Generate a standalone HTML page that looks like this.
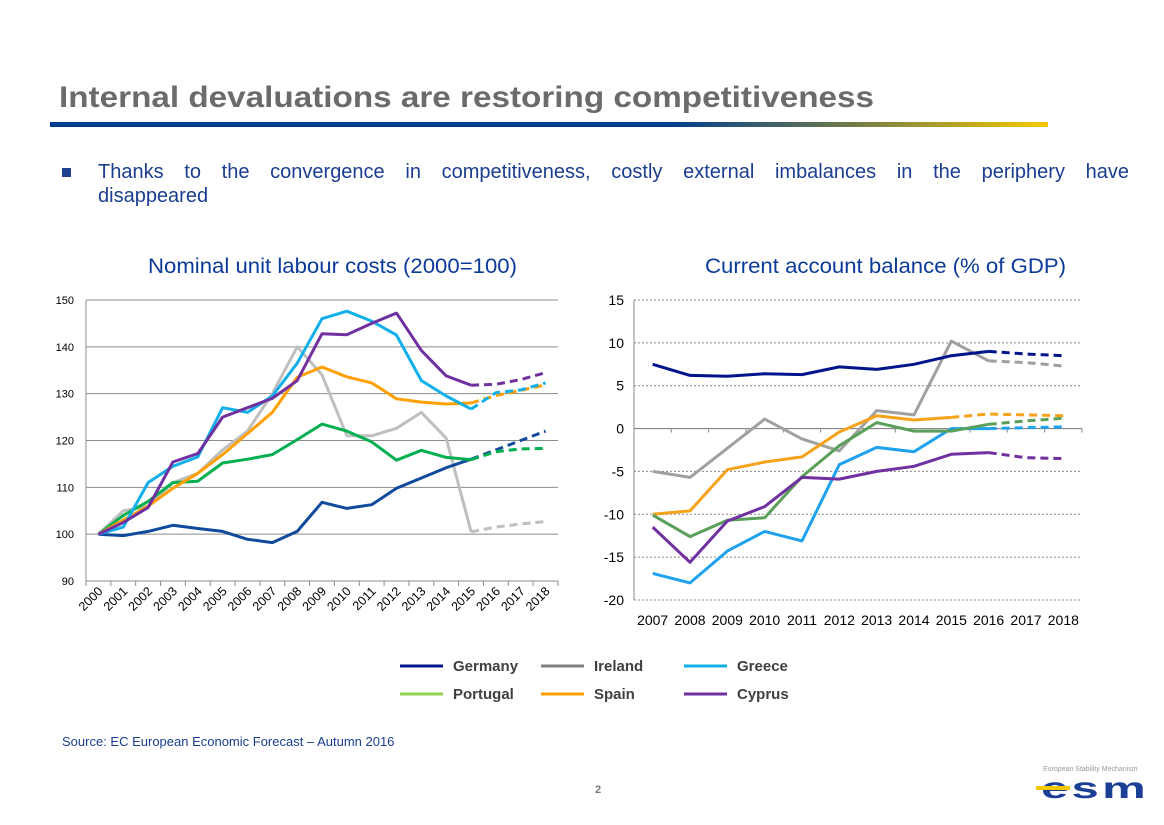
<!DOCTYPE html>
<html><head><meta charset="utf-8"><style>
html,body{margin:0;padding:0;background:#fff;}
svg{display:block;font-family:"Liberation Sans",Arial,sans-serif;}
</style></head><body>
<svg id="page" width="1164" height="825" viewBox="0 0 1164 825" xmlns="http://www.w3.org/2000/svg">
<defs>
<linearGradient id="rule" x1="0" x2="1" y1="0" y2="0">
<stop offset="0" stop-color="#003f8f"/><stop offset="0.62" stop-color="#003f8f"/><stop offset="0.8" stop-color="#6f7a4a"/><stop offset="1" stop-color="#f5c800"/>
</linearGradient>
</defs>
<text x="59" y="107" font-size="30" font-weight="bold" fill="#6b6b6b" textLength="815" lengthAdjust="spacingAndGlyphs">Internal devaluations are restoring competitiveness</text>
<rect x="50" y="122" width="998" height="5" fill="url(#rule)"/>
<rect x="62" y="168" width="9" height="9" fill="#1f3f8f"/>
<text id="bl1" x="98" y="178" font-size="20" fill="#1a3d8f">Thanks to the convergence in competitiveness, costly external imbalances in the periphery have</text>
<text x="98" y="202" font-size="20" fill="#1a3d8f">disappeared</text>
<text x="148" y="273" font-size="21" fill="#0b3a9a" textLength="369" lengthAdjust="spacingAndGlyphs">Nominal unit labour costs (2000=100)</text>
<text x="705" y="273" font-size="21" fill="#0b3a9a" textLength="361" lengthAdjust="spacingAndGlyphs">Current account balance (% of GDP)</text>
<g id="left"></g>
<g id="right"></g>
<g id="legend"></g>
<text x="62" y="746" font-size="13" fill="#1a3d8f">Source: EC European Economic Forecast – Autumn 2016</text>
<text x="598" y="793" font-size="11" font-weight="bold" fill="#777" text-anchor="middle">2</text>
<g>
<text x="1043" y="771" font-size="7" fill="#999">European Stability Mechanism</text>
<text x="1041" y="798" font-size="30" font-weight="bold" fill="#1a3f95" letter-spacing="2" textLength="108" lengthAdjust="spacingAndGlyphs">esm</text>
<rect x="1036" y="786" width="34" height="4" fill="#f5c800"/>
</g>
</svg>
<script>
const NS="http://www.w3.org/2000/svg";
// ---- Left chart data (Nominal ULC) ----
const ulcYears=["2000","2001","2002","2003","2004","2005","2006","2007","2008","2009","2010","2011","2012","2013","2014","2015","2016","2017","2018"];
const ulcTicks=[90,100,110,120,130,140,150];
const ulcGermany=[100,99.7,100.6,101.9,101.2,100.6,98.9,98.2,100.6,106.8,105.5,106.3,109.8,112,114.2,116,118,120,122];
const ulcIreland=[100,105,106,111,113,118,122,130,140,134,121,121,122.6,126,120.5,100.5,101.5,102.2,102.7];
const ulcGreece=[100,101.5,111,114.5,116.5,127,126,129.5,136.5,146,147.6,145.5,142.5,132.8,129.5,126.7,130.2,130.8,132.3];
const ulcPortugal=[100,104,107,111,111.3,115.2,116,117,120.2,123.5,122,119.7,115.8,117.9,116.4,115.9,117.6,118.2,118.3];
const ulcSpain=[100,103,106,109.8,113,117,121.5,126,133.5,135.7,133.6,132.3,128.9,128.2,127.8,128,129.6,130.7,131.9];
const ulcCyprus=[100,102.5,105.7,115.4,117.2,125,127,129,132.8,142.8,142.6,145,147.2,139.2,133.8,131.8,132,133,134.5];
const ulcForecastStart=15;
// ---- Right chart data (Current account) ----
const caYears=["2007","2008","2009","2010","2011","2012","2013","2014","2015","2016","2017","2018"];
const caTicks=[-20,-15,-10,-5,0,5,10,15];
const caGermany=[7.5,6.2,6.1,6.4,6.3,7.2,6.9,7.5,8.5,9.0,8.7,8.5];
const caIreland=[-5,-5.7,-2.3,1.1,-1.2,-2.6,2.1,1.6,10.2,7.9,7.7,7.3];
const caGreece=[-16.9,-18,-14.3,-12,-13.1,-4.2,-2.2,-2.7,0,0,0.1,0.2];
const caPortugal=[-10.1,-12.6,-10.7,-10.4,-5.6,-2,0.7,-0.3,-0.3,0.5,0.9,1.2];
const caSpain=[-10,-9.6,-4.8,-3.9,-3.3,-0.4,1.5,1.0,1.3,1.7,1.6,1.5];
const caCyprus=[-11.5,-15.6,-10.8,-9.1,-5.7,-5.9,-5,-4.4,-3,-2.8,-3.4,-3.5];

// justify bullet line via word spacing
(function(){const t=document.getElementById("bl1");const len=t.getComputedTextLength();const spaces=(t.textContent.match(/ /g)||[]).length;t.setAttribute("word-spacing",((1031-len)/spaces).toFixed(2));})();

function mk(tag,attrs,parent){const e=document.createElementNS(NS,tag);for(const k in attrs)e.setAttribute(k,attrs[k]);parent.appendChild(e);return e;}
function pts(vals,xf,yf,a,b){const o=[];for(let i=a;i<=b;i++)o.push(xf(i).toFixed(1)+","+yf(vals[i]).toFixed(1));return o.join(" ");}
function series(g,vals,fs,xf,yf,color,name){
  const s=mk("polyline",{points:pts(vals,xf,yf,0,fs),fill:"none",stroke:color,"stroke-width":3,"stroke-linejoin":"round"},g);
  
  
  const d=mk("polyline",{points:pts(vals,xf,yf,fs,vals.length-1),fill:"none",stroke:color,"stroke-width":3,"stroke-dasharray":"8,5"},g);
  
  
}
// Left chart
(function(){
  const g=document.getElementById("left");
  const L=86,R=558,T=300,B=581,min=90,max=150,n=ulcYears.length,w=(R-L)/n;
  const xf=i=>L+w*(i+0.5), yf=v=>B-(v-min)/(max-min)*(B-T);
  ulcTicks.forEach(t=>{
    const l=mk("line",{x1:L,x2:R,y1:yf(t),y2:yf(t),stroke:"#8c8c8c","stroke-width":1},g);
    
    
    const tx=mk("text",{x:L-12,y:yf(t)+4,"font-size":11,fill:"#000","text-anchor":"end"},g);tx.textContent=t;
    
    
  });
  const ax=mk("line",{x1:L,x2:L,y1:T,y2:B+5,stroke:"#8c8c8c"},g);
  
  
  ulcYears.forEach((y,i)=>{
    const tk=mk("line",{x1:L+w*(i+1),x2:L+w*(i+1),y1:B,y2:B+5,stroke:"#8c8c8c"},g);
    
    
    const cx=xf(i)+5, cy=B+11;
    const tx=mk("text",{x:cx,y:cy,"font-size":12.5,fill:"#000","text-anchor":"end",transform:`rotate(-45 ${cx} ${cy})`},g);tx.textContent=y;
    
    
  });
  series(g,ulcIreland,ulcForecastStart,xf,yf,"#bfbfbf","left-ireland");
  series(g,ulcGermany,ulcForecastStart,xf,yf,"#0f4a9c","left-germany");
  series(g,ulcPortugal,ulcForecastStart,xf,yf,"#00b050","left-portugal");
  series(g,ulcSpain,ulcForecastStart,xf,yf,"#ffa000","left-spain");
  series(g,ulcGreece,ulcForecastStart,xf,yf,"#12b0ea","left-greece");
  series(g,ulcCyprus,ulcForecastStart,xf,yf,"#7030a0","left-cyprus");
})();
// Right chart
(function(){
  const g=document.getElementById("right");
  const L=634,R=1082,T=300,B=600,min=-20,max=15,n=caYears.length,w=(R-L)/n;
  const xf=i=>L+w*(i+0.5), yf=v=>B-(v-min)/(max-min)*(B-T);
  caTicks.forEach(t=>{
    const l=mk("line",{x1:L,x2:R,y1:yf(t),y2:yf(t),stroke:t===0?"#777":"#888","stroke-width":1,"stroke-dasharray":t===0?"":"2,2"},g);
    
    
    const tx=mk("text",{x:L-10,y:yf(t)+5,"font-size":14,fill:"#000","text-anchor":"end"},g);tx.textContent=t;
    
    
  });
  const ax=mk("line",{x1:L,x2:L,y1:T,y2:B,stroke:"#888"},g);
  
  
  caYears.forEach((y,i)=>{
    const tk=mk("line",{x1:L+w*(i+1),x2:L+w*(i+1),y1:yf(0),y2:yf(0)+4,stroke:"#888"},g);
    
    
    const tx=mk("text",{x:xf(i),y:B+25,"font-size":14,fill:"#000","text-anchor":"middle"},g);tx.textContent=y;
    
    
  });
  series(g,caIreland,9,xf,yf,"#a0a0a0","right-ireland");
  series(g,caGermany,9,xf,yf,"#00148c","right-germany");
  series(g,caSpain,8,xf,yf,"#f7a21b","right-spain");
  series(g,caGreece,9,xf,yf,"#1ea2ef","right-greece");
  series(g,caPortugal,9,xf,yf,"#5aa05a","right-portugal");
  series(g,caCyprus,9,xf,yf,"#7030a0","right-cyprus");
})();
// Legend
const legendNames=["Germany","Ireland","Greece","Portugal","Spain","Cyprus"];
const legendColors=["#00148c","#808080","#12b0ea","#92d050","#ffa000","#7030a0"];
(function(){
  const g=document.getElementById("legend");
  const xs=[400,541,684], ys=[666,694];
  legendNames.forEach((nm,i)=>{
    const x=xs[i%3], y=ys[Math.floor(i/3)];
    const e=mk("g",{},g);
    
    
    mk("line",{x1:x,x2:x+43,y1:y,y2:y,stroke:legendColors[i],"stroke-width":3},e);
    const t=mk("text",{x:x+53,y:y+5,"font-size":15,"font-weight":"bold",fill:"#404040"},e);t.textContent=nm;
  });
})();
</script>
</body></html>
